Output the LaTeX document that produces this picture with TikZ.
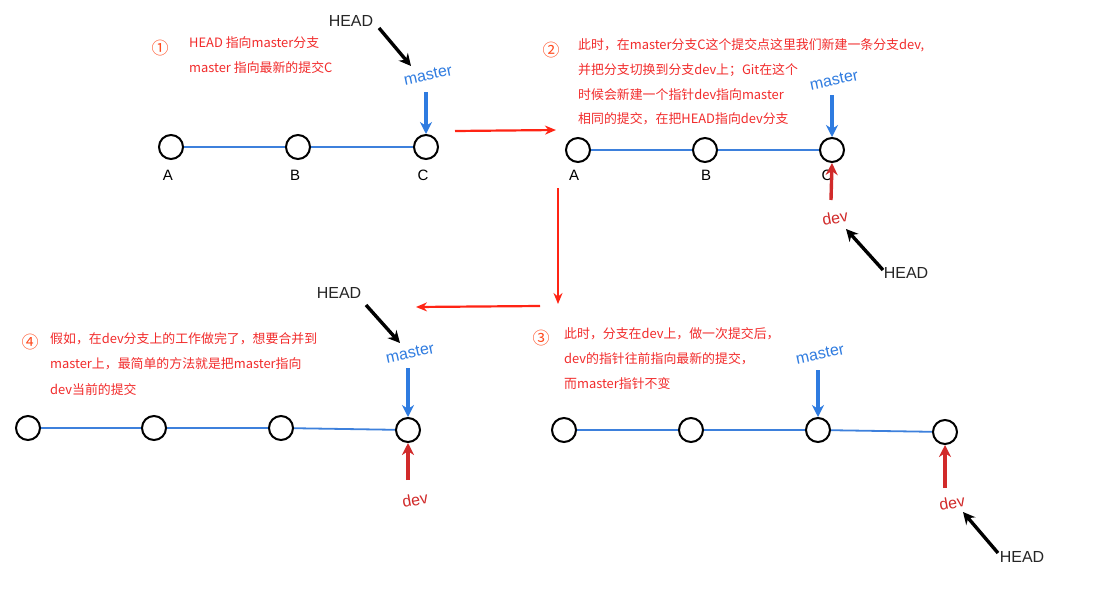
\documentclass[tikz,border=0pt]{standalone}
\usepackage{fontspec}
\setmainfont{Liberation Sans}
\newfontfamily\cjk{Noto Sans CJK SC}
\usetikzlibrary{arrows.meta}
\definecolor{txtred}{HTML}{F22C2C}
\definecolor{numred}{HTML}{FF4A1E}
\definecolor{bigred}{HTML}{FF2414}
\definecolor{devred}{HTML}{D12A2A}
\definecolor{ptrblue}{HTML}{2E7BE0}
\definecolor{lineblue}{HTML}{3D80DC}
\tikzset{
  commit/.style={circle,draw=black,line width=2pt,minimum size=24pt,inner sep=0pt,fill=white},
  link/.style={lineblue,line width=1.8pt},
  lbl/.style={font=\fontsize{15}{16}\selectfont,inner sep=1pt},
  note/.style={anchor=west,text=txtred,font=\cjk\fontsize{12.9}{14}\selectfont,inner sep=0pt},
  num/.style={text=numred,font=\cjk\fontsize{17}{18}\selectfont,inner sep=0pt},
  headlbl/.style={font=\fontsize{16}{17}\selectfont,text=black!85,inner sep=1pt},
  masterlbl/.style={font=\fontsize{16}{17}\selectfont,text=ptrblue,rotate=12,inner sep=1pt},
  devlbl/.style={font=\fontsize{16}{17}\selectfont,text=devred,rotate=10,inner sep=1pt},
  blkarrow/.style={black,line width=3.4pt,-{Stealth[length=12pt,width=12pt]}},
  bluearrow/.style={ptrblue,line width=3.4pt,-{Stealth[length=12pt,width=12pt]}},
  redptr/.style={devred,line width=3.4pt,-{Stealth[length=12pt,width=12pt]}},
  bigarrow/.style={bigred,line width=2.2pt,-{Stealth[length=11pt,width=9pt]}},
}
\begin{document}
\begin{tikzpicture}[x=1pt,y=-1pt]
\useasboundingbox (0,0) rectangle (1120,603);
\fill[white] (0,0) rectangle (1120,603);

% ---------- panel 1 ----------
\node[num] (n1) at (160,48) {①};
\node[note] (t1a) at (189,43) {HEAD 指向master分支};
\node[note] (t1b) at (189,68) {master 指向最新的提交C};
\draw[link] (171,147) -- (298,147) -- (426,147);
\node[commit] (p1a) at (171,147) {};
\node[commit] (p1b) at (298,147) {};
\node[commit] (p1c) at (426,147) {};
\node[lbl] (l1a) at (168,175) {A};
\node[lbl] (l1b) at (295,175) {B};
\node[lbl] (l1c) at (423,175) {C};
\node[headlbl] (h1) at (351,21) {HEAD};
\node[masterlbl] (m1) at (428,75) {master};
\coordinate (h1s) at (379,28);
\coordinate (h1e) at (411,66);
\draw[blkarrow] (h1s) -- (h1e);
\draw[bluearrow] (p1c |- 0,92) -- (p1c.north);

\coordinate (r1s) at (455,131);
\coordinate (r1e) at (556,130);
\draw[bigarrow] (r1s) -- (r1e);

% ---------- panel 2 ----------
\node[num] (n2) at (551,50) {②};
\node[note] (t2a) at (578,45) {此时，在master分支C这个提交点这里我们新建一条分支dev,};
\node[note] (t2b) at (578,70) {并把分支切换到分支dev上；Git在这个};
\node[note] (t2c) at (578,95) {时候会新建一个指针dev指向master};
\node[note] (t2d) at (578,119) {相同的提交，在把HEAD指向dev分支};
\draw[link] (578,150) -- (705,150) -- (832,150);
\node[commit] (p2a) at (578,150) {};
\node[commit] (p2b) at (705,150) {};
\node[commit] (p2c) at (832,150) {};
\node[lbl] (l2a) at (574,175) {A};
\node[lbl] (l2b) at (706,175) {B};
\node[lbl] (l2c) at (827,175) {C};
\node[masterlbl] (m2) at (834,80) {master};
\draw[bluearrow] (p2c |- 0,95) -- (p2c.north);
\node[devlbl] (d2) at (835,218) {dev};
\draw[redptr] (831,200) -- (p2c.south);
\node[headlbl] (h2) at (906,273) {HEAD};
\coordinate (h2s) at (883,270);
\coordinate (h2e) at (846,229);
\draw[blkarrow] (h2s) -- (h2e);

\coordinate (r2s) at (558,188);
\coordinate (r2e) at (558,304);
\draw[bigarrow] (r2s) -- (r2e);

% ---------- panel 4 ----------
\coordinate (r3s) at (540,306);
\coordinate (r3e) at (416,307);
\draw[bigarrow] (r3s) -- (r3e);
\node[num] (n4) at (30,342) {④};
\node[note] (t4a) at (50,339) {假如，在dev分支上的工作做完了，想要合并到};
\node[note] (t4b) at (50,364) {master上，最简单的方法就是把master指向};
\node[note] (t4c) at (50,390) {dev当前的提交};
\draw[link] (28,428) -- (154,428) -- (281,428) -- (408,430);
\node[commit] (p4a) at (28,428) {};
\node[commit] (p4b) at (154,428) {};
\node[commit] (p4c) at (281,428) {};
\node[commit] (p4d) at (408,430) {};
\node[headlbl] (h4) at (339,293) {HEAD};
\coordinate (h4s) at (366,305);
\coordinate (h4e) at (400,343);
\draw[blkarrow] (h4s) -- (h4e);
\node[masterlbl] (m4) at (410,353) {master};
\draw[bluearrow] (p4d |- 0,368) -- (p4d.north);
\node[devlbl] (d4) at (415,500) {dev};
\draw[redptr] (408,480) -- (p4d.south);

% ---------- panel 3 ----------
\node[num] (n3) at (541,338) {③};
\node[note] (t3a) at (564,334) {此时，分支在dev上，做一次提交后，};
\node[note] (t3b) at (564,359) {dev的指针往前指向最新的提交，};
\node[note] (t3c) at (564,384) {而master指针不变};
\draw[link] (564,430) -- (691,430) -- (818,430) -- (945,432);
\node[commit] (p3a) at (564,430) {};
\node[commit] (p3b) at (691,430) {};
\node[commit] (p3c) at (818,430) {};
\node[commit] (p3d) at (945,432) {};
\node[masterlbl] (m3) at (820,354) {master};
\draw[bluearrow] (p3c |- 0,370) -- (p3c.north);
\node[devlbl] (d3) at (952,503) {dev};
\draw[redptr] (945,488) -- (p3d.south);
\node[headlbl] (h3) at (1022,557) {HEAD};
\coordinate (h3s) at (998,553);
\coordinate (h3e) at (963,512);
\draw[blkarrow] (h3s) -- (h3e);
\end{tikzpicture}
\end{document}
